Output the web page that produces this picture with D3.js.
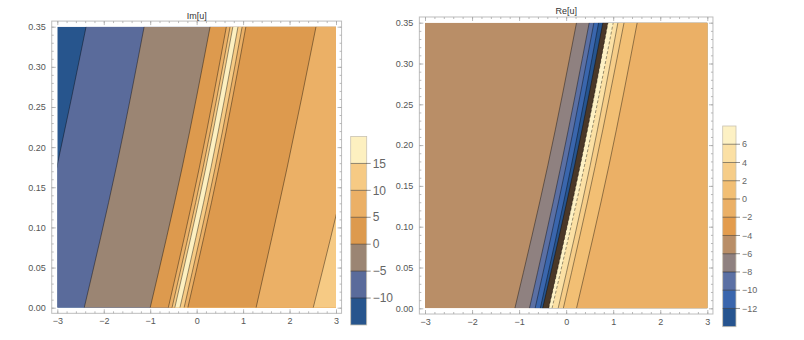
<!DOCTYPE html>
<html>
<head>
<meta charset="utf-8" />
<title>Im[u] / Re[u]</title>
<script src="https://cdn.jsdelivr.net/npm/d3@7"></script>
<style>
  body { margin: 0; background: #fff; }
  svg { display: block; font-family: "Liberation Sans", Arial, sans-serif; }
</style>
</head>
<body>
<svg id="chart" width="804" height="340"></svg>
<script>
var ySamples = [0, 0.175, 0.35];

// Im[u] : boundaries from left to right, x at each ySample
var imLevels = [-10, -5, 0, 5, 10, 15, 15, 10, 5, 5, 10];
var imX = [
  [-3.70, -3.01, -2.38],
  [-2.42, -1.73, -1.13],
  [-1.00, -0.31, 0.29],
  [-0.61, 0.06, 0.64],
  [-0.53, 0.14, 0.72],
  [-0.47, 0.20, 0.78],
  [-0.36, 0.31, 0.89],
  [-0.27, 0.40, 0.98],
  [-0.19, 0.48, 1.06],
  [1.28, 1.95, 2.57],
  [2.51, 3.24, 3.84]
];
// a value lying inside each region (left of first boundary, then after each)
var imRegion = [-12, -7, -2, 2, 7, 12, 17, 12, 7, 2, 7, 12];
var imEdges = [-15, -10, -5, 0, 5, 10, 15, 20];
var imColors = ['#27558d', '#5a6b9b', '#9b8573', '#dd9a4e', '#ebb066', '#f6ca84', '#fdf0c0'];

// Re[u]
var reLevels = [-6, -8, -10, -12, -Infinity, Infinity, 6, 4, 2, 0];
var reX = [
  [-1.09, -0.39, 0.22],
  [-0.78, -0.11, 0.49],
  [-0.66, 0.00, 0.59],
  [-0.55, 0.11, 0.69],
  [-0.50, 0.18, 0.78],
  [-0.37, 0.30, 0.89],
  [-0.30, 0.39, 1.00],
  [-0.17, 0.51, 1.10],
  [-0.06, 0.62, 1.23],
  [0.22, 0.91, 1.51]
];
var reRegion = [-5, -7, -9, -11, -13, null, 7, 5, 3, 1, -1];
var reEdges = [-14, -12, -10, -8, -6, -4, -2, 0, 2, 4, 6, 8];
var reColors = ['#26548f', '#3a66ad', '#5b70a4', '#8f8180', '#b98e67', '#e39c4d',
                '#ebb066', '#f2bf74', '#f6cd88', '#fbe0a4', '#fdf1c4'];
var crowdColor = '#4a3828';

var svg = d3.select('#chart');
var defs = svg.append('defs');

function panel(o) {
  var x = d3.scaleLinear().domain([-3, 3]).range([o.left, o.right]);
  var y = d3.scaleLinear().domain([0, 0.35]).range([o.bottom, o.top]);
  var fill = d3.scaleThreshold().domain(o.edges.slice(1, -1)).range(o.colors);
  var col = function (v) { return v === null ? crowdColor : fill(v); };

  defs.append('clipPath').attr('id', o.id)
    .append('rect')
    .attr('x', x(-3)).attr('y', y(0.35))
    .attr('width', x(3) - x(-3)).attr('height', y(0) - y(0.35));

  var g = svg.append('g').attr('clip-path', 'url(#' + o.id + ')');
  g.append('rect')
    .attr('x', x(-3)).attr('y', y(0.35))
    .attr('width', x(3) - x(-3)).attr('height', y(0) - y(0.35))
    .attr('fill', col(o.region[0]));

  var area = d3.area().curve(d3.curveNatural)
    .y(function (d) { return y(d[1]); })
    .x0(function (d) { return x(d[0]); })
    .x1(x(5));
  var line = d3.line().curve(d3.curveNatural)
    .x(function (d) { return x(d[0]); })
    .y(function (d) { return y(d[1]); });

  var pts = o.bounds.map(function (b) {
    return b.map(function (v, j) { return [v, ySamples[j]]; });
  });
  pts.forEach(function (p, i) {
    g.append('path').attr('d', area(p)).attr('fill', col(o.region[i + 1]));
  });
  pts.forEach(function (p, i) {
    g.append('path').attr('d', line(p))
      .attr('fill', 'none')
      .attr('stroke', '#000')
      .attr('stroke-opacity', 0.5)
      .attr('stroke-width', 0.8)
      .attr('stroke-dasharray', o.levels[i] > 4 && o.id == 'clipRe' ? '3,2' : null);
  });

  // frame, padded by 2% like Mathematica
  var fx0 = x(-3.12), fx1 = x(3.12), fy0 = y(-0.007), fy1 = y(0.357);
  svg.append('rect')
    .attr('x', fx0).attr('y', fy1)
    .attr('width', fx1 - fx0).attr('height', fy0 - fy1)
    .attr('fill', 'none').attr('stroke', '#bdbdbd').attr('stroke-width', 1);

  var xMaj = d3.range(-3, 3.5, 1), xMin = d3.range(-3, 3.01, 0.2);
  var yMaj = d3.range(0, 0.351, 0.05), yMin = d3.range(0, 0.351, 0.01);

  function ax(gen, tx, ty, vals, size, labels, pad) {
    var a = svg.append('g').attr('transform', 'translate(' + tx + ',' + ty + ')')
      .call(gen.tickValues(vals).tickSize(-size).tickPadding(pad || 3)
        .tickFormat(labels || ''));
    a.select('.domain').remove();
    a.selectAll('line').attr('stroke', '#a8a8a8').attr('stroke-width', 0.8);
    a.selectAll('text').attr('fill', '#555').style('font-size', '9px')
      .style('font-family', '"Liberation Sans", Arial, sans-serif');
    return a;
  }
  ax(d3.axisBottom(x), 0, fy0, xMin, 2);
  ax(d3.axisBottom(x), 0, fy0, xMaj, 4, d3.format('d'), 4.5);
  ax(d3.axisTop(x), 0, fy1, xMin, 2);
  ax(d3.axisTop(x), 0, fy1, xMaj, 4);
  ax(d3.axisLeft(y), fx0, 0, yMin, 2);
  ax(d3.axisLeft(y), fx0, 0, yMaj, 4, d3.format('.2f'), 6);
  ax(d3.axisRight(y), fx1, 0, yMin, 2);
  ax(d3.axisRight(y), fx1, 0, yMaj, 4);

  svg.append('text')
    .attr('x', (fx0 + fx1) / 2).attr('y', fy1 - 2.5)
    .attr('text-anchor', 'middle')
    .attr('fill', '#333').style('font-size', '9px')
    .text(o.title);
}

function legend(o) {
  var ly = d3.scaleLinear().domain([o.edges[0], o.edges[o.edges.length - 1]])
    .range([o.bottom, o.top]);
  var g = svg.append('g');
  o.colors.forEach(function (c, i) {
    g.append('rect')
      .attr('x', o.x0).attr('width', o.x1 - o.x0)
      .attr('y', ly(o.edges[i + 1])).attr('height', ly(o.edges[i]) - ly(o.edges[i + 1]))
      .attr('fill', c);
  });
  g.append('rect')
    .attr('x', o.x0).attr('y', o.top)
    .attr('width', o.x1 - o.x0).attr('height', o.bottom - o.top)
    .attr('fill', 'none').attr('stroke', '#c9c2b2').attr('stroke-width', 0.8);
  var ticks = o.edges.slice(1, -1);
  g.selectAll('line.lv').data(ticks).enter().append('line')
    .attr('x1', o.x0).attr('x2', o.x1 + o.tick)
    .attr('y1', ly).attr('y2', ly)
    .attr('stroke', '#000').attr('stroke-opacity', 0.55).attr('stroke-width', 0.8);
  g.selectAll('text').data(ticks).enter().append('text')
    .attr('x', o.x1 + o.tick + 2).attr('y', ly).attr('dy', '0.35em')
    .attr('fill', '#666').style('font-size', o.font + 'px')
    .text(d3.format('d'));
}

panel({ id: 'clipIm', title: 'Im[u]', left: 57.3, right: 336, top: 26.7, bottom: 307.7,
        bounds: imX, levels: imLevels, region: imRegion, edges: imEdges, colors: imColors });
panel({ id: 'clipRe', title: 'Re[u]', left: 425, right: 707.3, top: 22.7, bottom: 308.3,
        bounds: reX, levels: reLevels, region: reRegion, edges: reEdges, colors: reColors });

legend({ x0: 350.7, x1: 366.7, top: 136.5, bottom: 325, edges: imEdges, colors: imColors,
         tick: 4, font: 12 });
legend({ x0: 722.7, x1: 736, top: 126, bottom: 326.7, edges: reEdges, colors: reColors,
         tick: 4, font: 9 });
</script>
</body>
</html>
